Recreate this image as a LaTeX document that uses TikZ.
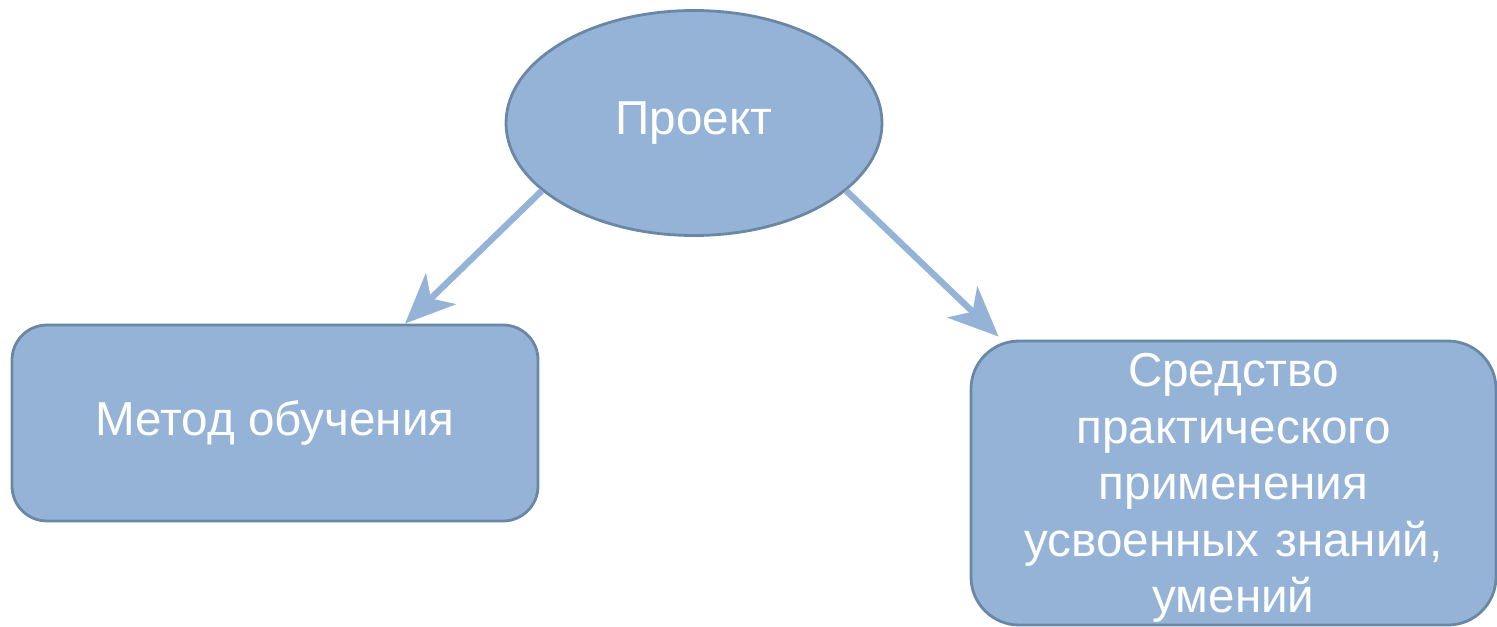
\documentclass[tikz,border=0pt]{standalone}
\usepackage{fontspec}
\setmainfont{Liberation Sans}
\usetikzlibrary{arrows,arrows.meta,positioning,shapes.geometric}
\definecolor{blok}{HTML}{95B3D7}
\definecolor{kant}{HTML}{6A87A6}
\tikzset{
  txt/.style={text=white,font=\fontsize{23.8}{28.25}\selectfont,align=center,inner sep=0pt},
  blk/.style={rectangle,rounded corners=17.5pt,draw=kant,line width=1.4pt,fill=blok,txt},
  str/.style={-{Stealth[length=25pt,width=21.5pt,inset=7pt]},draw=blok,line width=3.2pt}
}

\begin{document}
\begin{tikzpicture}[x=0.5pt,y=-0.5pt]
\useasboundingbox (0,0) rectangle (1497,626);
\node[ellipse,draw=kant,line width=1.4pt,fill=blok,txt,minimum width=188pt,minimum height=112.5pt] (pr) at (694,123){Проект};
  \node[blk,minimum width=263pt,minimum height=98pt] (mo) at (275,423){Метод обучения};
  \node[blk,rounded corners=24pt,minimum width=262.5pt,minimum height=142pt,
    label={[txt,text width=250pt,yshift=-2.5pt]center:{Средство\\практического\\применения\\усвоенных знаний,\\умений}}] (sr) at (1233.5,483){};
    \draw[str] (pr.204) to ([xshift=65pt]mo.north);
    \draw[str] (pr.336) to ([xshift=14.5pt,yshift=1.5pt]sr.north west);
\end{tikzpicture}
\end{document}
